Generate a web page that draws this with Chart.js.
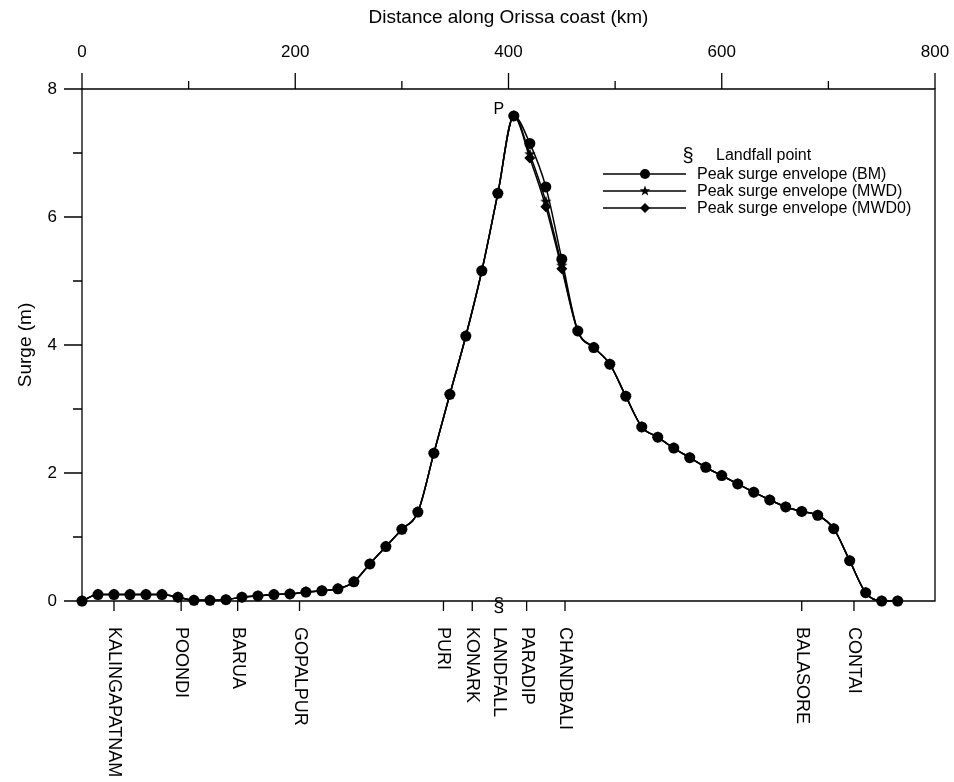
<!DOCTYPE html>
<html>
<head>
<meta charset="utf-8">
<title>Peak surge envelope - Orissa coast</title>
<script src="https://cdn.jsdelivr.net/npm/chart.js@4/dist/chart.umd.min.js"></script>
<style>
  html, body { margin: 0; padding: 0; background: #ffffff; }
  #wrap { width: 954px; height: 782px; }
</style>
</head>
<body>
<div id="wrap"><canvas id="surgeChart" width="954" height="782"></canvas></div>
<script>
// ======================
// DATA
// ======================
const distanceKm = [
    0, 15, 30, 45, 60, 75, 90, 105, 120, 135, 150, 165, 180, 195, 210, 225, 240, 255,
    270, 285, 300, 315, 330, 345, 360, 375, 390, 405, 420, 435, 450, 465, 480, 495,
    510, 525, 540, 555, 570, 585, 600, 615, 630, 645, 660, 675, 690, 705, 720, 735,
    750, 765
];

const surgeBM = [
    0.00, 0.10, 0.10, 0.10, 0.10, 0.10, 0.06, 0.01, 0.01, 0.02, 0.06, 0.08, 0.10, 0.11, 0.14, 0.16, 0.19, 0.30,
    0.58, 0.85, 1.12, 1.39, 2.31, 3.23, 4.14, 5.16, 6.37, 7.58, 7.15, 6.47, 5.34, 4.22, 3.96, 3.70,
    3.20, 2.72, 2.56, 2.39, 2.24, 2.09, 1.96, 1.83, 1.70, 1.58, 1.47, 1.40, 1.34, 1.13, 0.63, 0.13,
    0.00, 0.00
];

const surgeMWD = [
    0.00, 0.10, 0.10, 0.10, 0.10, 0.10, 0.06, 0.01, 0.01, 0.02, 0.06, 0.08, 0.10, 0.11, 0.14, 0.16, 0.19, 0.30,
    0.58, 0.85, 1.12, 1.39, 2.31, 3.23, 4.14, 5.16, 6.37, 7.58, 6.98, 6.24, 5.24, 4.22, 3.96, 3.70,
    3.20, 2.72, 2.56, 2.39, 2.24, 2.09, 1.96, 1.83, 1.70, 1.58, 1.47, 1.40, 1.34, 1.13, 0.63, 0.13,
    0.00, 0.00
];

const surgeMWD0 = [
    0.00, 0.10, 0.10, 0.10, 0.10, 0.10, 0.06, 0.01, 0.01, 0.02, 0.06, 0.08, 0.10, 0.11, 0.14, 0.16, 0.19, 0.30,
    0.58, 0.85, 1.12, 1.39, 2.31, 3.23, 4.14, 5.16, 6.37, 7.58, 6.92, 6.16, 5.19, 4.22, 3.96, 3.70,
    3.20, 2.72, 2.56, 2.39, 2.24, 2.09, 1.96, 1.83, 1.70, 1.58, 1.47, 1.40, 1.34, 1.13, 0.63, 0.13,
    0.00, 0.00
];

const seriesLabels = ['Peak surge envelope (BM)', 'Peak surge envelope (MWD)', 'Peak surge envelope (MWD0)'];

// stations along the coast (bottom axis)
const stationNames = ['KALINGAPATNAM', 'POONDI', 'BARUA', 'GOPALPUR', 'PURI', 'KONARK', 'LANDFALL', 'PARADIP', 'CHANDBALI', 'BALASORE', 'CONTAI'];
const stationKm = [30, 93, 146, 204, 339, 366, 391, 417, 453, 675, 724];
const landfallKm = 391;

const xTicksMajor = [0, 200, 400, 600, 800];
const xTicksMinor = [100, 300, 500, 700];
const yTicksMajor = [0, 2, 4, 6, 8];
const yTicksMinor = [1, 3, 5, 7];

const FONT = "'Liberation Sans', Arial, Helvetica, sans-serif";

// filled star marker (Chart.js 'star' is only stroked)
function makeStar(r) {
    const c = document.createElement('canvas');
    const s = Math.ceil(r * 2 + 2);
    c.width = s; c.height = s;
    const g = c.getContext('2d');
    drawStarPath(g, s / 2, s / 2, r);
    g.fillStyle = '#000';
    g.fill();
    return c;
}

function drawStarPath(g, cx, cy, r) {
    g.beginPath();
    for (let i = 0; i < 10; i++) {
        const rad = i % 2 === 0 ? r : r * 0.42;
        const a = -Math.PI / 2 + i * Math.PI / 5;
        const px = cx + rad * Math.cos(a);
        const py = cy + rad * Math.sin(a);
        if (i === 0) g.moveTo(px, py); else g.lineTo(px, py);
    }
    g.closePath();
}

const starImg = makeStar(6);

function toPoints(values) {
    return distanceKm.map((d, i) => ({ x: d, y: values[i] }));
}

// ======================
// PLUGIN: frame, ticks, stations, legend
// ======================
const decorPlugin = {
    id: 'decor',
    afterDraw(chart) {
        const ctx = chart.ctx;
        const area = chart.chartArea;
        const xs = chart.scales.x;
        const ys = chart.scales.y;

        ctx.save();
        ctx.strokeStyle = '#000';
        ctx.fillStyle = '#000';
        ctx.lineWidth = 1.3;

        // frame
        ctx.beginPath();
        ctx.rect(area.left, area.top, area.right - area.left, area.bottom - area.top);
        ctx.stroke();

        // top axis ticks (pointing up)
        ctx.beginPath();
        xTicksMajor.forEach(v => {
            const px = xs.getPixelForValue(v);
            ctx.moveTo(px, area.top); ctx.lineTo(px, area.top - 16);
        });
        xTicksMinor.forEach(v => {
            const px = xs.getPixelForValue(v);
            ctx.moveTo(px, area.top); ctx.lineTo(px, area.top - 8);
        });
        // left axis ticks (pointing left)
        yTicksMajor.forEach(v => {
            const py = ys.getPixelForValue(v);
            ctx.moveTo(area.left, py); ctx.lineTo(area.left - 18, py);
        });
        yTicksMinor.forEach(v => {
            const py = ys.getPixelForValue(v);
            ctx.moveTo(area.left, py); ctx.lineTo(area.left - 9, py);
        });
        // station ticks on the bottom
        stationKm.forEach((v, i) => {
            if (stationNames[i] === 'LANDFALL') return;
            const px = xs.getPixelForValue(v);
            ctx.moveTo(px, area.bottom); ctx.lineTo(px, area.bottom + 10);
        });
        ctx.stroke();

        // station names, rotated
        ctx.font = '18px ' + FONT;
        ctx.textAlign = 'left';
        ctx.textBaseline = 'middle';
        stationKm.forEach((v, i) => {
            const px = xs.getPixelForValue(v);
            ctx.save();
            ctx.translate(px, area.bottom + 26);
            ctx.rotate(Math.PI / 2);
            ctx.fillText(stationNames[i], 0, 0);
            ctx.restore();
        });

        // landfall symbol on the axis
        ctx.font = '20px ' + FONT;
        ctx.textAlign = 'center';
        ctx.fillText('§', xs.getPixelForValue(landfallKm), area.bottom + 5);

        // peak label
        const iPeak = surgeBM.indexOf(Math.max(...surgeBM));
        ctx.font = '16px ' + FONT;
        ctx.fillText('P', xs.getPixelForValue(distanceKm[iPeak]) - 15, ys.getPixelForValue(surgeBM[iPeak]) - 6);

        // legend
        const lx0 = 603, lx1 = 686, lmk = 645, ltx = 697;
        const rows = [174, 191, 208];
        ctx.font = '20px ' + FONT;
        ctx.textAlign = 'center';
        ctx.fillText('§', 688, 156);
        ctx.font = '16px ' + FONT;
        ctx.textAlign = 'left';
        ctx.fillText('Landfall point', 716, 156);
        ctx.lineWidth = 1.5;
        rows.forEach((ry, i) => {
            ctx.beginPath();
            ctx.moveTo(lx0, ry); ctx.lineTo(lx1, ry);
            ctx.stroke();
            if (i === 0) {
                ctx.beginPath(); ctx.arc(lmk, ry, 5, 0, Math.PI * 2); ctx.fill();
            } else if (i === 1) {
                drawStarPath(ctx, lmk, ry, 5.5); ctx.fill();
            } else {
                ctx.beginPath();
                ctx.moveTo(lmk, ry - 5); ctx.lineTo(lmk + 5, ry); ctx.lineTo(lmk, ry + 5); ctx.lineTo(lmk - 5, ry);
                ctx.closePath(); ctx.fill();
            }
            ctx.fillText(seriesLabels[i], ltx, ry + 1);
        });

        ctx.restore();
    }
};

// ======================
// CHART
// ======================
const lineBase = {
    borderColor: '#000000',
    backgroundColor: '#000000',
    pointBackgroundColor: '#000000',
    pointBorderColor: '#000000',
    borderWidth: 1.5,
    pointBorderWidth: 0,
    cubicInterpolationMode: 'monotone',
    clip: 10,
    fill: false
};

const ctx = document.getElementById('surgeChart').getContext('2d');
new Chart(ctx, {
    type: 'line',
    data: {
        datasets: [
            Object.assign({}, lineBase, {
                label: seriesLabels[0],
                data: toPoints(surgeBM),
                pointStyle: 'circle',
                pointRadius: 5.5
            }),
            Object.assign({}, lineBase, {
                label: seriesLabels[1],
                data: toPoints(surgeMWD),
                pointStyle: starImg,
                pointRadius: 6
            }),
            Object.assign({}, lineBase, {
                label: seriesLabels[2],
                data: toPoints(surgeMWD0),
                pointStyle: 'rectRot',
                pointRadius: 5.5
            })
        ]
    },
    options: {
        responsive: false,
        animation: false,
        devicePixelRatio: 1,
        layout: { padding: { left: 0, top: 0, right: 19, bottom: 181 } },
        plugins: {
            legend: { display: false },
            tooltip: { enabled: false }
        },
        scales: {
            x: {
                type: 'linear',
                position: 'top',
                min: 0,
                max: 800,
                grid: { display: false, drawTicks: false },
                border: { display: false },
                ticks: {
                    stepSize: 200,
                    padding: 26,
                    color: '#000',
                    font: { family: FONT, size: 17 }
                },
                title: {
                    display: true,
                    text: 'Distance along Orissa coast (km)',
                    color: '#000',
                    font: { family: FONT, size: 19 },
                    padding: { top: 6, bottom: 0 }
                },
                afterFit: function(scale) {
                    scale.height = 89;
                    scale.paddingLeft = 0;
                    scale.paddingRight = 0;
                }
            },
            y: {
                type: 'linear',
                min: 0,
                max: 8,
                grid: { display: false, drawTicks: false },
                border: { display: false },
                ticks: {
                    stepSize: 2,
                    padding: 25,
                    color: '#000',
                    font: { family: FONT, size: 17 }
                },
                title: {
                    display: true,
                    text: 'Surge (m)',
                    color: '#000',
                    font: { family: FONT, size: 19 },
                    padding: { top: 14, bottom: 0 }
                },
                afterFit: function(scale) {
                    scale.width = 82;
                    scale.paddingTop = 0;
                    scale.paddingBottom = 0;
                }
            }
        }
    },
    plugins: [decorPlugin]
});
</script>
</body>
</html>
